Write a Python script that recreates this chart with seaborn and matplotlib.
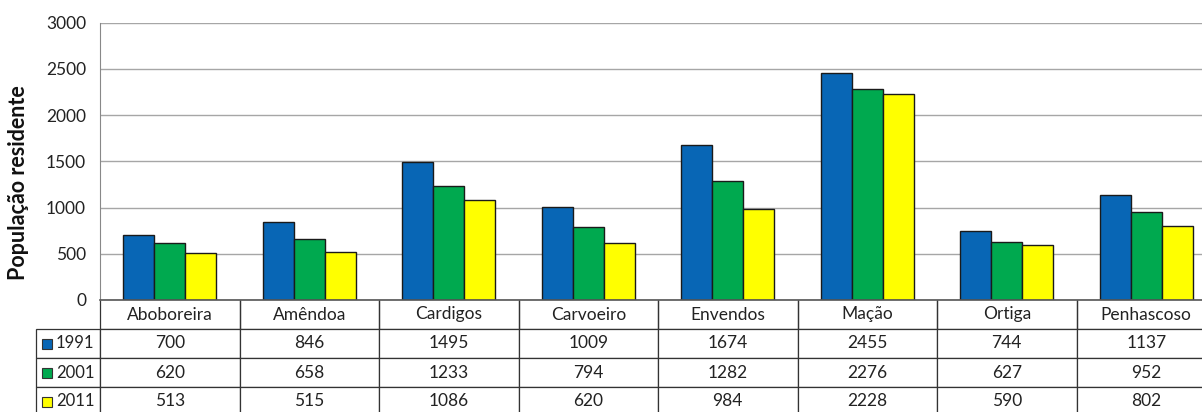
import matplotlib
matplotlib.use("Agg")
import matplotlib.pyplot as plt
import seaborn as sns
import pandas as pd
from matplotlib.patches import Rectangle

freguesias = ["Aboboreira", "Amêndoa", "Cardigos", "Carvoeiro", "Envendos",
              "Mação", "Ortiga", "Penhascoso"]
anos = ["1991", "2001", "2011"]
pop_1991 = [700, 846, 1495, 1009, 1674, 2455, 744, 1137]
pop_2001 = [620, 658, 1233, 794, 1282, 2276, 627, 952]
pop_2011 = [513, 515, 1086, 620, 984, 2228, 590, 802]
cores = ["#0866B5", "#00A94F", "#FFFF00"]

series = [pop_1991, pop_2001, pop_2011]
df = pd.DataFrame({
    "freguesia": freguesias * 3,
    "ano": [a for a in anos for _ in freguesias],
    "pop": pop_1991 + pop_2001 + pop_2011,
})

sns.set_style("white")
plt.rcParams["font.family"] = ["Lato", "DejaVu Sans"]

W, H = 1202, 412
fig = plt.figure(figsize=(W / 100, H / 100), dpi=100)
ax_left, ax_right = 100, 1216
ax_top, ax_bot = 22.5, 300
ax_w = ax_right - ax_left
ax_h = ax_bot - ax_top
ax = fig.add_axes([ax_left / W, (H - ax_bot) / H, ax_w / W, ax_h / H])

sns.barplot(data=df, x="freguesia", y="pop", hue="ano", palette=cores,
            edgecolor="#1a1a1a", linewidth=1.0, width=0.67, gap=0,
            legend=False, ax=ax, saturation=1)

ax.set_xlim(-0.5, len(freguesias) - 0.5)
ax.set_ylim(0, 3000)
ax.set_yticks(range(0, 3001, 500))
ax.tick_params(axis="y", labelsize=12.5, length=5, color="#999999",
               labelcolor="#222222", pad=5)
ax.set_xticks([])
ax.set_xlabel("")
ax.set_ylabel("População residente", fontsize=15.5, fontweight="bold",
              color="#111111")
ax.yaxis.set_label_coords((29 - ax_left) / ax_w, (ax_bot - 182.5) / ax_h)
ax.yaxis.grid(True, color="#a6a6a6", linewidth=1.0)
ax.set_axisbelow(True)
for s in ["top", "right"]:
    ax.spines[s].set_visible(False)
ax.spines["left"].set_color("#888888")
ax.spines["bottom"].set_color("#555555")
ax.spines["bottom"].set_linewidth(1.2)

# data table below the chart
row_h = 29 / ax_h
rl_w = 64 / ax_w
n = len(freguesias)
cell_text = [[ano] + [str(v) for v in s] for ano, s in zip(anos, series)]
tbl = ax.table(cellText=cell_text, colLabels=[""] + freguesias,
               cellLoc="center", colLoc="center",
               colWidths=[rl_w] + [1 / n] * n,
               bbox=[-rl_w, -4 * row_h, 1 + rl_w, 4 * row_h])
tbl.auto_set_font_size(False)
tbl.set_fontsize(12.5)
for (r, c), cell in tbl.get_celld().items():
    cell.set_edgecolor("#333333")
    cell.set_linewidth(0.9)
    cell.get_text().set_color("#222222")
    if r == 0:
        cell.visible_edges = "" if c == 0 else "BLR"
    if c == 0 and r > 0:
        cell.get_text().set_ha("right")
        cell.get_text().set_fontsize(12)
        cell._loc = "right"
        cell.PAD = 0.09

# legend keys in the row labels
sq_w = 10 / ax_w
sq_h = 10 / ax_h
for i, col in enumerate(cores):
    yc = -(i + 1.5) * row_h
    ax.add_patch(Rectangle((-rl_w + 5.5 / ax_w, yc - sq_h / 2),
                           sq_w, sq_h, transform=ax.transAxes,
                           facecolor=col, edgecolor="#333333", linewidth=0.8,
                           clip_on=False, zorder=5))

fig.savefig("out.png", dpi=100)
